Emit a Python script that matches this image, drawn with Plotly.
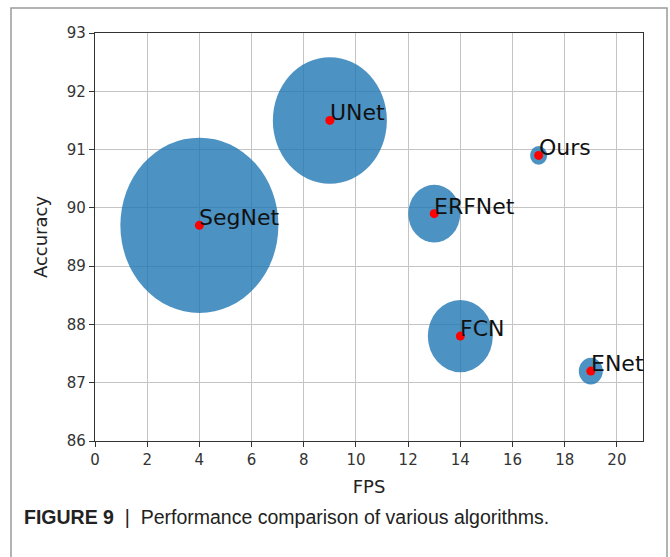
import plotly.graph_objects as go

# Algorithms compared: speed (FPS), accuracy, and relative bubble size
models = ["SegNet", "UNet", "ERFNet", "FCN", "Ours", "ENet"]
fps = [4, 9, 13, 14, 17, 19]
accuracy = [89.7, 91.5, 89.9, 87.8, 90.9, 87.2]
bubble = [158, 114, 52, 65, 17, 24]

x_ticks = list(range(0, 21, 2))
y_ticks = list(range(86, 94))

BUBBLE_COLOR = "rgba(31,119,180,0.8)"
ASPECT = 1.11  # bubbles are drawn slightly taller than wide
FONT = "DejaVu Sans"

fig = go.Figure()

# centre markers
fig.add_trace(go.Scatter(
    x=fps, y=accuracy, mode="markers",
    marker=dict(color="#ff0000", size=9, line=dict(width=0)),
    hoverinfo="skip", showlegend=False,
))

shapes = []
for x, y, s in zip(fps, accuracy, bubble):
    w = s
    h = s * ASPECT
    shapes.append(dict(
        type="circle", xref="x", yref="y",
        xsizemode="pixel", ysizemode="pixel",
        xanchor=x, yanchor=y,
        x0=-w / 2, x1=w / 2, y0=-h / 2, y1=h / 2,
        fillcolor=BUBBLE_COLOR, line=dict(width=0),
        layer="between",
    ))

# outer frame around figure and caption
shapes.append(dict(
    type="rect", xref="paper", yref="paper",
    x0=-0.1533, x1=1.0438, y0=-0.35, y1=1.0613,
    line=dict(color="#9a9a9a", width=1.5), fillcolor="rgba(0,0,0,0)",
    layer="above",
))

annotations = []
for x, y, name in zip(fps, accuracy, models):
    annotations.append(dict(
        x=x, y=y, xref="x", yref="y", text=name, showarrow=False,
        xanchor="left", yanchor="bottom", xshift=-2, yshift=-7,
        font=dict(family=FONT, size=22, color="#111111"),
    ))

annotations.append(dict(
    x=-0.1332, y=-0.186, xref="paper", yref="paper", showarrow=False,
    xanchor="left", yanchor="middle",
    text="<b>FIGURE 9</b>  |  Performance comparison of various algorithms.",
    font=dict(family="Liberation Sans, Arial, sans-serif", size=19.5, color="#222222"),
))

axis_common = dict(
    showline=True, linecolor="#333333", linewidth=1.3, mirror=True,
    ticks="outside", ticklen=5, tickwidth=1.2, tickcolor="#333333",
    showgrid=True, gridcolor="#c4c4c4", gridwidth=1.2,
    zeroline=False,
    tickfont=dict(family=FONT, size=15, color="#333333"),
)

fig.update_layout(
    width=670, height=557,
    margin=dict(l=95, r=27, t=33, b=116),
    paper_bgcolor="white", plot_bgcolor="white",
    shapes=shapes, annotations=annotations,
    xaxis=dict(range=[0, 21], tickvals=x_ticks,
               title=dict(text="FPS", standoff=12,
                          font=dict(family=FONT, size=18, color="#222222")),
               **axis_common),
    yaxis=dict(range=[86, 93], tickvals=y_ticks,
               title=dict(text="Accuracy", standoff=14,
                          font=dict(family=FONT, size=18, color="#222222")),
               **axis_common),
)

fig.write_html("out.html")
